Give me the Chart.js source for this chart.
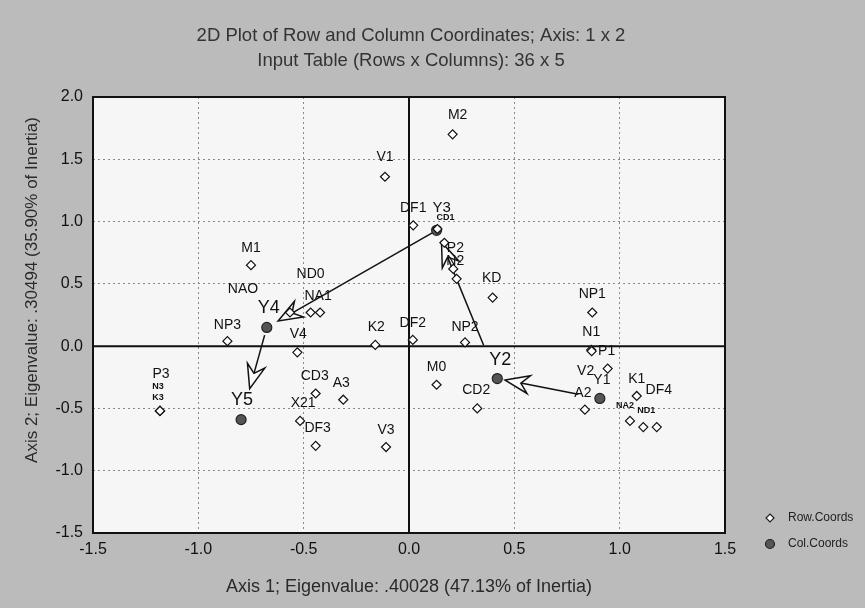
<!DOCTYPE html>
<html lang="en">
<head>
<meta charset="UTF-8">
<title>2D Plot of Row and Column Coordinates</title>
<script src="https://cdn.jsdelivr.net/npm/chart.js"></script>
<style>
  body { margin: 0; background: #bbbbbb; }
  #wrap { width: 865px; height: 608px; }
</style>
</head>
<body>
<div id="wrap"><canvas id="caPlot" width="865" height="608"></canvas></div>
<script>
// row coordinates (Axis 1, Axis 2)
const rowNames = ['V1', 'M2', 'DF1', 'CD1', 'M1', 'ND0', 'NAO', 'NA1', 'NP3', 'V4', 'K2', 'DF2',
  'P2', 'N2', '', 'KD', 'NP1', 'N1', 'P1', 'NP2', 'M0', 'CD2', 'V2', 'A2', 'K1', 'NA2', 'ND1',
  'DF4', 'P3', 'N3', 'K3', 'CD3', 'A3', 'X21', 'DF3', 'V3'];
const rowX = [-0.114, 0.207, 0.020, 0.135, -0.750, -0.467, -0.565, -0.422, -0.862, -0.530, -0.160, 0.018,
  0.168, 0.210, 0.226, 0.397, 0.870, 0.865, 0.867, 0.266, 0.131, 0.324, 0.943, 0.835, 1.081, 1.049, 1.112,
  1.176, -1.182, -1.182, -1.182, -0.443, -0.312, -0.517, -0.443, -0.109];
const rowY = [1.36, 1.70, 0.97, 0.94, 0.65, 0.27, 0.27, 0.27, 0.04, -0.05, 0.01, 0.05,
  0.83, 0.62, 0.54, 0.39, 0.27, -0.03, -0.04, 0.03, -0.31, -0.50, -0.18, -0.51, -0.40, -0.60, -0.65,
  -0.65, -0.52, -0.52, -0.52, -0.38, -0.43, -0.60, -0.80, -0.81];

// column coordinates
const colNames = ['Y1', 'Y2', 'Y3', 'Y4', 'Y5'];
const colX = [0.906, 0.419, 0.131, -0.675, -0.797];
const colY = [-0.42, -0.26, 0.93, 0.15, -0.59];

// axis ticks
const xTickValues = [-1.5, -1.0, -0.5, 0.0, 0.5, 1.0, 1.5];
const yTickValues = [-1.5, -1.0, -0.5, 0.0, 0.5, 1.0, 1.5, 2.0];

const titleLines = ['2D Plot of Row and Column Coordinates; Axis: 1 x 2', 'Input Table (Rows x Columns): 36 x 5'];
const xTitle = 'Axis 1; Eigenvalue: .40028 (47.13% of Inertia)';
const yTitle = 'Axis 2; Eigenvalue: .30494 (35.90% of Inertia)';

// label placement (pixels relative to the marker), default above
const labelPos = {
  'V1': [0, -20], 'M2': [5, -19], 'CD1': [8, -12, 9], 'ND0': [0, -38], 'NAO': [-47, -23],
  'NA1': [-2, -16], 'NP3': [0, -16], 'V4': [1, -18], 'K2': [1, -18], 'P2': [11, 5], 'N2': [2, -8],
  'KD': [-1, -19], 'NP1': [0, -18], 'N1': [0, -18], 'P1': [15, 0], 'NP2': [0, -15], 'M0': [0, -18],
  'CD2': [-1, -18], 'V2': [-22, 3], 'A2': [-2, -17], 'NA2': [-5, -15, 9], 'ND1': [3, -17, 9],
  'DF4': [2, -37], 'P3': [1, -37], 'N3': [-2, -24, 9], 'K3': [-2, -13, 9], 'CD3': [-1, -17],
  'A3': [-2, -17], 'X21': [3, -18], 'DF3': [2, -18],
  'Y1': [2, -18, 14], 'Y2': [3, -19, 18], 'Y3': [5, -22, 15], 'Y4': [2, -19, 18], 'Y5': [1, -20, 18]
};
// arrow trims [start, end] in px for Y1->Y2, Y2->Y3, Y3->Y4, Y4->Y5
const arrowTrim = [[22, 8], [36, 13], [2, 13], [8, 32]];

const FONT = '"Liberation Sans", Arial, sans-serif';

const rowPts = rowX.map((x, i) => ({ x: x, y: rowY[i] }));
const colPts = colX.map((x, i) => ({ x: x, y: colY[i] }));

const decoPlugin = {
  id: 'deco',
  beforeDraw(chart) {
    const { ctx, chartArea: a } = chart;
    ctx.save();
    ctx.fillStyle = '#bbbbbb';
    ctx.fillRect(0, 0, chart.width, chart.height);
    ctx.fillStyle = '#f6f6f6';
    ctx.fillRect(a.left, a.top, a.right - a.left, a.bottom - a.top);
    ctx.restore();
  },
  beforeDatasetsDraw(chart) {
    const { ctx, chartArea: a, scales } = chart;
    const x0 = scales.x.getPixelForValue(0);
    const y0 = scales.y.getPixelForValue(0);
    ctx.save();
    ctx.strokeStyle = '#111';
    ctx.lineWidth = 2;
    ctx.beginPath();
    ctx.moveTo(x0, a.top); ctx.lineTo(x0, a.bottom);
    ctx.moveTo(a.left, y0); ctx.lineTo(a.right, y0);
    ctx.stroke();
    ctx.strokeRect(a.left, a.top, a.right - a.left, a.bottom - a.top);

    // arrows between consecutive column points
    ctx.lineWidth = 1.5;
    for (let i = 0; i < colX.length - 1; i++) {
      const sx = scales.x.getPixelForValue(colX[i]), sy = scales.y.getPixelForValue(colY[i]);
      const ex = scales.x.getPixelForValue(colX[i + 1]), ey = scales.y.getPixelForValue(colY[i + 1]);
      const len = Math.hypot(ex - sx, ey - sy);
      const ux = (ex - sx) / len, uy = (ey - sy) / len;
      const ax = sx + ux * arrowTrim[i][0], ay = sy + uy * arrowTrim[i][0];
      const tx = ex - ux * arrowTrim[i][1], ty = ey - uy * arrowTrim[i][1];
      const hl = 24, hw = 9, notch = 8;
      const bx = tx - ux * hl, by = ty - uy * hl;
      const nx = tx - ux * (hl - notch), ny = ty - uy * (hl - notch);
      ctx.beginPath();
      ctx.moveTo(ax, ay); ctx.lineTo(nx, ny);
      ctx.stroke();
      ctx.beginPath();
      ctx.moveTo(tx, ty);
      ctx.lineTo(bx - uy * hw, by + ux * hw);
      ctx.lineTo(nx, ny);
      ctx.lineTo(bx + uy * hw, by - ux * hw);
      ctx.closePath();
      ctx.fillStyle = '#fafafa';
      ctx.fill();
      ctx.stroke();
    }
    ctx.restore();
  },
  afterDatasetsDraw(chart) {
    const { ctx, chartArea: a } = chart;
    ctx.save();
    ctx.fillStyle = '#111';
    ctx.textAlign = 'center';
    ctx.textBaseline = 'middle';
    const names = [rowNames, colNames];
    [0, 1].forEach(d => {
      chart.getDatasetMeta(d).data.forEach((el, i) => {
        const name = names[d][i];
        if (!name) return;
        const p = labelPos[name] || [0, -17];
        const size = p[2] || 14;
        ctx.font = (size < 10 ? 'bold ' : '') + size + 'px ' + FONT;
        ctx.fillText(name, el.x + p[0], el.y + p[1]);
      });
    });

    // titles
    const cx = (a.left + a.right) / 2 + 2;
    ctx.fillStyle = '#333';
    ctx.font = '18.5px ' + FONT;
    ctx.fillText(titleLines[0], cx, a.top - 61);
    ctx.fillText(titleLines[1], cx, a.top - 36);

    // y axis title, sits a little above the centre in the original
    ctx.save();
    ctx.translate(32, a.top + 193);
    ctx.rotate(-Math.PI / 2);
    ctx.font = '17px ' + FONT;
    ctx.fillStyle = '#2a2a2a';
    ctx.fillText(yTitle, 0, 0);
    ctx.restore();

    // legend
    const lx = a.right + 45;
    ctx.textAlign = 'left';
    ctx.font = '12px ' + FONT;
    ctx.fillStyle = '#222';
    ctx.fillText('Row.Coords', lx + 18, a.bottom - 15);
    ctx.fillText('Col.Coords', lx + 18, a.bottom + 11);
    ctx.strokeStyle = '#222';
    ctx.lineWidth = 1.2;
    ctx.beginPath();
    ctx.moveTo(lx, a.bottom - 19); ctx.lineTo(lx + 4, a.bottom - 15);
    ctx.lineTo(lx, a.bottom - 11); ctx.lineTo(lx - 4, a.bottom - 15); ctx.closePath();
    ctx.fillStyle = '#fff';
    ctx.fill(); ctx.stroke();
    ctx.beginPath();
    ctx.arc(lx, a.bottom + 11, 4.5, 0, Math.PI * 2);
    ctx.fillStyle = '#555';
    ctx.fill(); ctx.stroke();
    ctx.restore();
  }
};

const tickFont = { family: FONT, size: 16 };

new Chart(document.getElementById('caPlot'), {
  type: 'scatter',
  data: {
    datasets: [
      {
        label: 'Row.Coords', data: rowPts, pointStyle: 'rectRot', pointRadius: 4.5,
        backgroundColor: '#ffffff', borderColor: '#111', pointBorderWidth: 1.2
      },
      {
        label: 'Col.Coords', data: colPts, pointStyle: 'circle', pointRadius: 5,
        backgroundColor: '#555', borderColor: '#222', pointBorderWidth: 1.2
      }
    ]
  },
  options: {
    responsive: false,
    animation: false,
    devicePixelRatio: 1,
    layout: { padding: { top: 97, right: 140, left: 0, bottom: 0 } },
    plugins: { legend: { display: false }, tooltip: { enabled: false } },
    scales: {
      x: {
        type: 'linear', min: -1.5, max: 1.5,
        afterBuildTicks: s => { s.ticks = xTickValues.map(v => ({ value: v })); },
        afterFit: s => { s.height = 75; },
        ticks: { font: tickFont, color: '#111', padding: 7, callback: v => v.toFixed(1) },
        grid: { color: '#8a8a8a', lineWidth: 1, drawTicks: false },
        border: { display: false, dash: [2, 3] },
        title: { display: true, text: xTitle, font: { family: FONT, size: 18 }, color: '#2a2a2a', padding: { top: 4, bottom: 10 } }
      },
      y: {
        type: 'linear', min: -1.5, max: 2.0,
        afterBuildTicks: s => { s.ticks = yTickValues.map(v => ({ value: v })); },
        afterFit: s => { s.width = 93; },
        ticks: { font: tickFont, color: '#111', padding: 10, callback: v => v.toFixed(1) },
        grid: { color: '#8a8a8a', lineWidth: 1, drawTicks: false },
        border: { display: false, dash: [2, 3] },
        title: { display: false }
      }
    }
  },
  plugins: [decoPlugin]
});
</script>
</body>
</html>
